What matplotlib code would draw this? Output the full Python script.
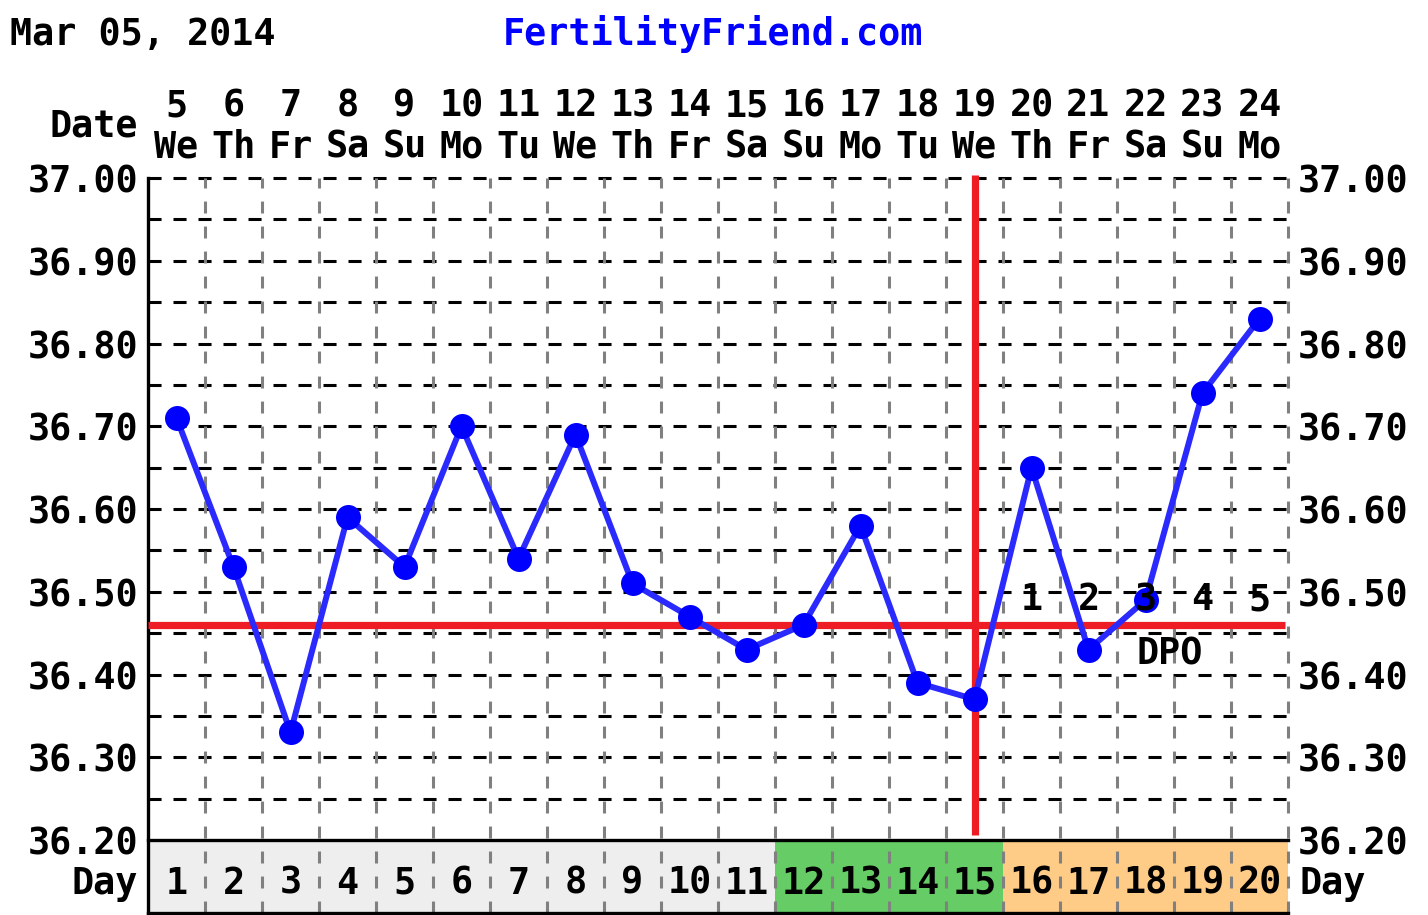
import matplotlib
matplotlib.use("Agg")
import matplotlib.pyplot as plt
import numpy as np

plt.rcParams['lines.scale_dashes'] = False

# ---------------- data ----------------
days = list(range(1, 21))
dates = [5, 6, 7, 8, 9, 10, 11, 12, 13, 14, 15, 16, 17, 18, 19, 20, 21, 22, 23, 24]
weekdays = ['We', 'Th', 'Fr', 'Sa', 'Su', 'Mo', 'Tu', 'We', 'Th', 'Fr',
            'Sa', 'Su', 'Mo', 'Tu', 'We', 'Th', 'Fr', 'Sa', 'Su', 'Mo']
temps = [36.71, 36.53, 36.33, 36.59, 36.53, 36.70, 36.54, 36.69, 36.51, 36.47,
         36.43, 36.46, 36.58, 36.39, 36.37, 36.65, 36.43, 36.49, 36.74, 36.83]
phases = ['none'] * 11 + ['fertile'] * 4 + ['luteal'] * 5
coverline = 36.46
ovulation_day = 15
dpo_days = [16, 17, 18, 19, 20]
dpo_labels = ['1', '2', '3', '4', '5']
ytick_vals = [36.20, 36.30, 36.40, 36.50, 36.60, 36.70, 36.80, 36.90, 37.00]
chart_date = 'Mar 05, 2014'
site = 'FertilityFriend.com'

phase_colors = {'none': '#eeeeee', 'fertile': '#66cc66', 'luteal': '#ffcc88'}

# ---------------- layout ----------------
W, H = 1428, 915
fig = plt.figure(figsize=(W / 100, H / 100), dpi=100)
left_px, right_px = 148, 1288
top_px, base_px, bot_px = 178, 840, 913
ax = fig.add_axes([left_px / W, (H - bot_px) / H, (right_px - left_px) / W, (bot_px - top_px) / H])

ymin_plot, ymax_plot = 36.20, 37.00
px_per_unit = (base_px - top_px) / (ymax_plot - ymin_plot)
bar_h = (bot_px - base_px) / px_per_unit
ybot = ymin_plot - bar_h
ax.set_xlim(0.5, 20.5)
ax.set_ylim(ybot, ymax_plot)
for s in ax.spines.values():
    s.set_visible(False)

FS = 26.5
FONT = dict(family='DejaVu Sans Mono', fontweight='bold', fontsize=FS)

def ay(py):
    """pixel y -> axes fraction"""
    return (bot_px - py) / (bot_px - top_px)

# day bar
ax.bar(days, bar_h, bottom=ybot, width=1.0,
       color=[phase_colors[p] for p in phases], linewidth=0, zorder=1)

# horizontal grid (dashed black)
for yv in np.arange(36.25, 37.001, 0.05):
    ax.plot([0.5, 20.5], [yv, yv], color='black', lw=2.2,
            dashes=(9.4, 8.6), zorder=2, clip_on=False, dash_capstyle='butt')
# vertical grid (dashed gray)
for xv in np.arange(1.5, 20.6, 1.0):
    ax.plot([xv, xv], [ybot, ymax_plot], color='#808080', lw=2.2,
            dashes=(8.6, 9.4), zorder=2, clip_on=False, dash_capstyle='butt')
# solid frame parts
ax.plot([0.5, 20.5], [ymin_plot, ymin_plot], color='black', lw=2.4, zorder=3, clip_on=False)
ax.plot([0.5, 20.5], [ybot, ybot], color='black', lw=2.4, zorder=3, clip_on=False)
ax.plot([0.5, 0.5], [ybot, ymax_plot], color='black', lw=2.4, zorder=3, clip_on=False)

# coverline and ovulation line
ax.plot([0.5, 20.45], [coverline, coverline], color='#ee1c24', lw=5.2, zorder=4,
        solid_capstyle='butt')
ax.plot([ovulation_day, ovulation_day], [ymin_plot + 0.006, ymax_plot + 0.004],
        color='#ee1c24', lw=5.2, zorder=4, clip_on=False, solid_capstyle='butt')

# temperatures
ax.plot(days, temps, color='#2a2aff', lw=4.3, zorder=5, clip_on=False)
ax.plot(days, temps, 'o', color='#0000ff', ms=18, zorder=6, clip_on=False,
        markeredgewidth=0)

# y ticks both sides
ax.set_yticks(ytick_vals)
ax.set_yticklabels([f'{v:.2f}' for v in ytick_vals])
ax.set_xticks([])
ax.tick_params(axis='y', length=0, labelleft=True, labelright=True, pad=7)
for t in ax.yaxis.get_major_ticks():
    for lab in (t.label1, t.label2):
        lab.set_fontfamily('DejaVu Sans Mono')
        lab.set_fontweight('bold')
        lab.set_fontsize(FS)
    t.set_pad(7)

xt = ax.get_xaxis_transform()
# date and weekday rows
for d, dt, wd in zip(days, dates, weekdays):
    ax.text(d, ay(106), str(dt), transform=xt, ha='center', va='center', **FONT)
    ax.text(d, ay(147), wd, transform=xt, ha='center', va='center', **FONT)
    ax.text(d, ay(883), str(d), transform=xt, ha='center', va='center', zorder=7, **FONT)

# DPO labels
for d, lab in zip(dpo_days, dpo_labels):
    ax.text(d, 36.4905, lab, ha='center', va='center', zorder=7, **FONT)
ax.text(18.43, 36.425, 'DPO', ha='center', va='center', zorder=7, **FONT)

# side labels
ax.text(-10 / (right_px - left_px), ay(126), 'Date', transform=ax.transAxes,
        ha='right', va='center', **FONT)
ax.text(-10 / (right_px - left_px), ay(883), 'Day', transform=ax.transAxes,
        ha='right', va='center', **FONT)
ax.text(1 + 12 / (right_px - left_px), ay(883), 'Day', transform=ax.transAxes,
        ha='left', va='center', **FONT)

# header
fig.text(10 / W, 1 - 34 / H, chart_date, ha='left', va='center', **FONT)
fig.text(503 / W, 1 - 34 / H, site, ha='left', va='center', color='#0000ff', **FONT)

fig.savefig('out.png', dpi=100, facecolor='white')
